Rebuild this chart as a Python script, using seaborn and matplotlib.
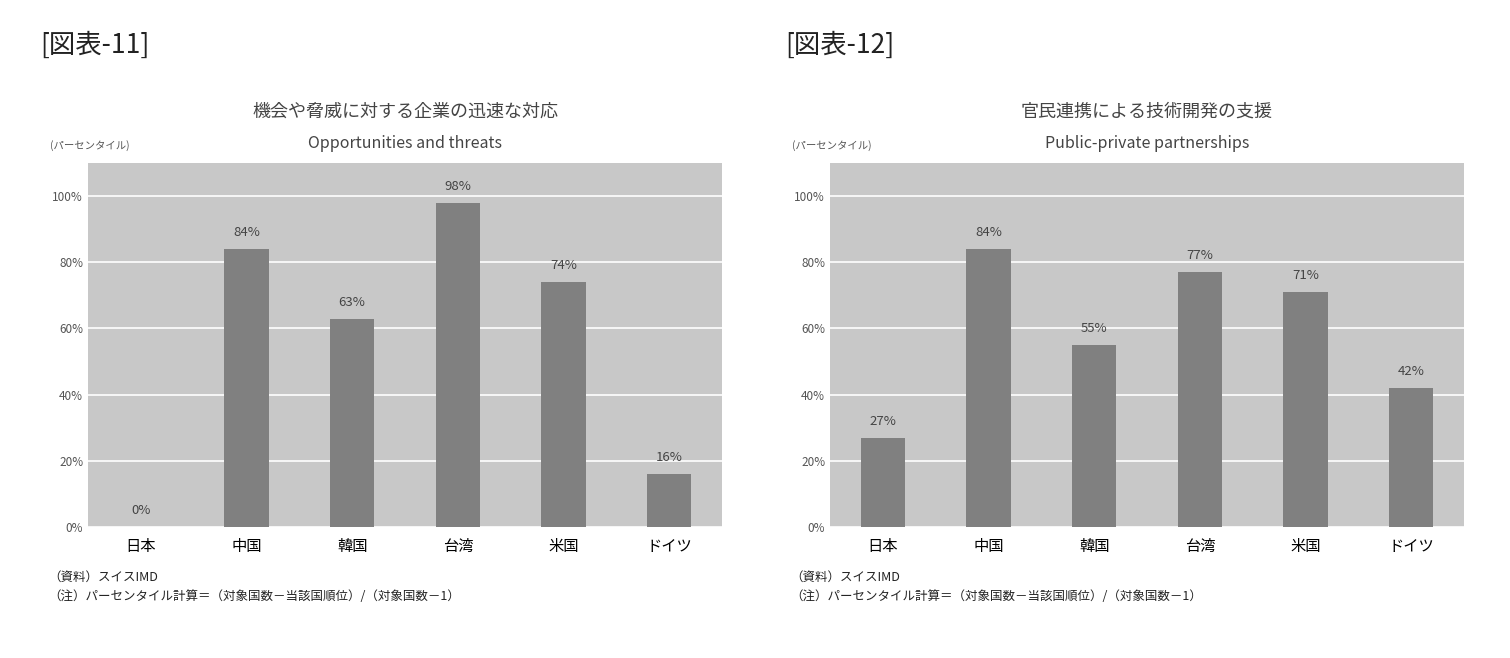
import matplotlib
matplotlib.use("Agg")
import matplotlib.pyplot as plt
import seaborn as sns
import pandas as pd

categories = ["日本", "中国", "韓国", "台湾", "米国", "ドイツ"]
values_11 = [0, 84, 63, 98, 74, 16]
values_12 = [27, 84, 55, 77, 71, 42]
yticks = [0, 20, 40, 60, 80, 100]

plt.rcParams["font.family"] = "Noto Sans CJK JP"
fig = plt.figure(figsize=(15.1, 6.58), dpi=100)

panels = [
    ("[図表-11]", "機会や脅威に対する企業の迅速な対応", "Opportunities and threats", values_11, 88, 40),
    ("[図表-12]", "官民連携による技術開発の支援", "Public-private partnerships", values_12, 830, 785),
]
W, H = 1510, 658
for label, title, sub, vals, x0, lx in panels:
    ax = fig.add_axes([x0 / W, 1 - 527 / H, 634 / W, 364 / H])
    df = pd.DataFrame({"c": categories, "v": vals})
    sns.barplot(data=df, x="c", y="v", color="#808080", saturation=1, width=0.42, ax=ax, zorder=3)
    ax.set_facecolor("#c8c8c8")
    ax.set_ylim(0, 110)
    ax.set_yticks(yticks)
    ax.set_yticklabels([f"{t}%" for t in yticks], fontsize=8.5, color="#555555")
    ax.grid(axis="y", color="white", linewidth=1.2, zorder=0)
    ax.set_axisbelow(True)
    ax.tick_params(length=0)
    ax.tick_params(axis="x", labelsize=11, pad=8)
    ax.set_xlabel(""); ax.set_ylabel("")
    for s in ax.spines.values():
        s.set_visible(False)
    for i, v in enumerate(vals):
        ax.text(i, v + 3, f"{v}%", ha="center", va="bottom", fontsize=9.5, color="#444444")
    fig.text(lx / W, 1 - 45 / H, label, fontsize=19, va="center", family="Noto Sans CJK JP", color="#222222")
    fig.text((x0 + 317) / W, 1 - 112 / H, title, ha="center", va="center", fontsize=13, color="#444444")
    fig.text((x0 + 317) / W, 1 - 143 / H, sub, ha="center", va="center", fontsize=11.5, color="#444444")
    fig.text((x0 - 38) / W, 1 - 146 / H, "(パーセンタイル)", fontsize=7.5, va="center", color="#555555")
    fig.text((x0 - 40) / W, 1 - 577 / H, "（資料）スイスIMD", fontsize=9, va="center", color="#222222")
    fig.text((x0 - 40) / W, 1 - 597 / H, "（注）パーセンタイル計算＝（対象国数－当該国順位）/（対象国数－1）", fontsize=9, va="center", color="#222222")

fig.savefig("out.png", dpi=100, facecolor="white")
